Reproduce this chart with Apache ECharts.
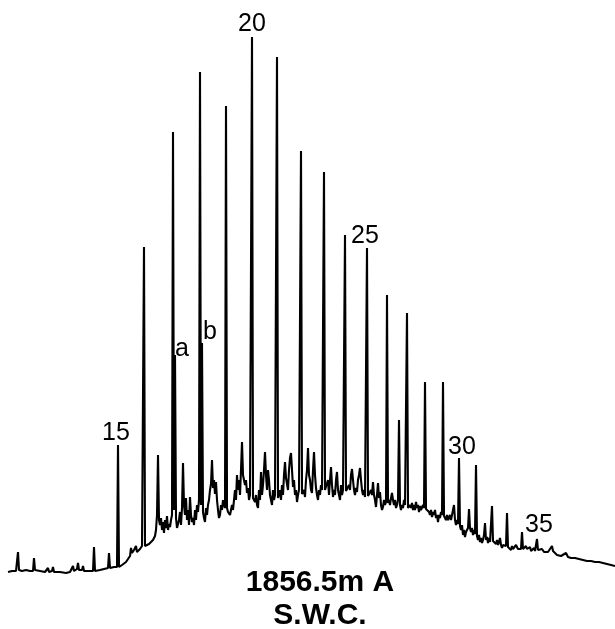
<!DOCTYPE html>
<html>
<head>
<meta charset="utf-8">
<script src="https://cdn.jsdelivr.net/npm/echarts@6/dist/echarts.min.js"></script>
<style>html,body{margin:0;padding:0;background:#fff;}#c{width:615px;height:629px;}</style>
</head>
<body>
<div id="c"></div>
<script>
// Gas chromatogram trace: [scan, detector response]
var frontTrace = [
[8,28],[12,29],[16,29],[17,29],[18,48],[19,30],[22,29],[26,30],[30,29],[33,29],[34,42],[35,30],[40,29],[45,28],[48,32],[49,28],[52,29],[53,33],[54,28],[60,28],[66,27],[70,28],[72,30],[73,34],[74,29],[77,31],[78,37],[79,30],[82,30],[83,34],[84,29],[88,29],[93,29],[94,53],[95,29],[100,30],[104,31],[108,32],[109,47],[110,32],[114,33],[117,33],[118,155],[119,33],[122,35],[126,38],[128,40],[130,44],[131,52],[132,47],[134,50],[136,54],[137,48],[140,51],[142,54],[143,54],[144,353],[145,54],[147,55],[149,56],[151,58],[153,60],[155,64],[156,70],[157,85],[158,145],[159,80],[160,75],[161,82],[162,70],[163,78],[164,67],[165,80],[166,72],[167,84],[168,70],[169,76],[170,73],[171,80],[172,85],[173,468],[174,90],[175,245],[176,82],[177,72],[178,70],[179,80],[180,88],[181,75],[182,92],[183,137],[184,95],[185,85],[186,102],[187,80],[188,90],[189,75],[190,103],[191,85],[192,78],[193,82],[194,75],[195,90],[196,80],[197,95],[198,88],[199,100],[200,528],[201,95],[202,257],[203,88],[204,82],[205,78],[206,92],[207,85],[208,95],[209,100],[210,110],[211,116],[212,140],[213,112],[214,120],[215,106],[216,118],[217,100],[218,90],[219,82],[220,85],[221,95],[222,90],[223,100],[224,95],[225,92],[226,494],[227,92],[228,88],[230,85],[232,95],[233,90],[235,110],[236,100],[237,125],[238,110],[239,120],[240,105],[241,130],[242,158],[243,125],[244,127],[245,115],[246,120],[247,107],[248,112],[249,100],[250,105],[251,103]
];
var humpTrace = [
[252,563],[253,102],[254,100],[255,98],[256,105],[257,95],[258,92],[259,110],[260,100],[261,128],[262,105],[263,115],[264,130],[265,148],[266,125],[267,110],[268,130],[269,120],[270,105],[271,100],[272,95],[273,110],[274,100],[275,105],[276,104],[277,543],[278,102],[279,103],[280,110],[281,100],[282,115],[283,105],[284,125],[285,138],[286,122],[287,120],[288,110],[289,130],[290,142],[291,147],[292,130],[293,113],[294,120],[295,105],[296,110],[297,98],[298,105],[299,110],[300,108],[301,449],[302,106],[303,105],[304,110],[305,103],[306,120],[307,130],[308,152],[309,125],[310,120],[311,110],[312,107],[313,130],[314,148],[315,125],[316,112],[317,105],[318,100],[319,110],[320,105],[321,115],[322,110],[323,108],[324,428],[325,110],[326,112],[327,110],[328,120],[329,105],[330,120],[331,133],[332,115],[333,103],[334,110],[335,105],[336,120],[337,128],[338,110],[339,105],[340,100],[341,115],[342,105],[343,110],[344,108],[345,365],[346,109],[347,110],[348,108],[349,115],[350,110],[351,125],[352,131],[353,120],[354,110],[355,105],[356,112],[357,108],[358,120],[359,125],[360,132],[361,120],[362,110],[363,105],[364,110],[365,103],[366,104],[367,352],[368,104],[369,105],[370,103],[371,110],[372,105],[373,118],[374,105],[375,100],[376,93],[377,105],[378,117],[379,102],[380,108],[381,95],[382,90],[383,93],[384,100],[385,95],[386,98],[387,305],[388,97],[389,100],[390,95],[391,102],[392,107],[393,100],[394,95],[395,100],[396,92],[397,95],[398,100],[399,180],[400,95]
];
var tailTrace = [
[401,90],[402,95],[403,92],[404,100],[405,95],[406,94],[407,287],[408,92],[409,90],[410,95],[411,92],[412,97],[413,90],[414,95],[415,90],[416,98],[417,92],[418,95],[419,88],[420,94],[421,90],[422,88],[423,95],[424,92],[425,218],[426,91],[427,90],[428,93],[429,88],[430,85],[431,90],[432,83],[433,88],[434,85],[435,90],[436,82],[437,85],[438,78],[439,85],[440,82],[441,88],[442,85],[443,218],[444,84],[445,82],[446,80],[447,85],[448,80],[449,82],[450,85],[451,80],[452,78],[453,82],[454,95],[455,80],[456,75],[457,80],[458,76],[459,142],[460,74],[461,70],[462,75],[463,65],[464,70],[465,63],[466,68],[467,70],[468,72],[469,91],[470,72],[471,68],[472,72],[473,65],[474,70],[475,66],[476,135],[477,64],[478,60],[479,65],[480,58],[481,62],[482,57],[483,60],[484,65],[485,77],[486,60],[487,63],[488,57],[489,62],[490,58],[491,60],[492,94],[493,59],[494,58],[495,60],[496,56],[497,60],[498,55],[499,58],[500,62],[501,55],[502,52],[503,55],[504,53],[505,55],[506,54],[507,87],[508,53],[509,52],[510,53],[511,50],[512,54],[513,51],[514,53],[515,50],[516,55],[517,55],[518,51],[519,53],[520,50],[521,51],[522,68],[523,51],[524,52],[525,50],[526,54],[527,51],[528,53],[529,50],[530,53],[531,49],[532,51],[533,50],[534,52],[535,49],[536,50],[537,61],[538,50],[539,50],[540,49],[542,51],[544,48],[546,50],[548,48],[550,51],[552,54],[553,49],[555,47],[557,45],[559,46],[561,44],[563,45],[566,47],[568,43],[571,42],[575,42],[579,41],[583,40],[587,39],[591,39],[595,38],[599,38],[603,37],[607,36],[611,35],[615,34]
];
// Peak annotations
var labelText = ['15', 'a', 'b', '20', '25', '30', '35'];
var labelScan = [116, 182, 210, 252, 365, 462, 539];
var labelResponse = [167, 251, 268, 576, 364, 153, 75];
var titleLines = ['1856.5m A', 'S.W.C.'];

var trace = frontTrace.concat(humpTrace, tailTrace);
var labelData = labelText.map(function (t, i) { return { value: [labelScan[i], labelResponse[i]], name: t }; });

var chart = echarts.init(document.getElementById('c'), null, { renderer: 'canvas' });
chart.setOption({
  animation: false,
  backgroundColor: '#ffffff',
  title: {
    text: titleLines.join('\n'),
    left: 315, top: 561, textAlign: 'center',
    textStyle: { fontFamily: 'Liberation Sans', fontWeight: 'bold', fontSize: 30, lineHeight: 33, color: '#000' }
  },
  grid: { left: 0, right: 0, top: 0, bottom: 0 },
  xAxis: { type: 'value', min: 0, max: 615, show: false },
  yAxis: { type: 'value', min: -29, max: 600, show: false },
  series: [
    {
      type: 'line', data: trace, showSymbol: false, symbol: 'none',
      lineStyle: { color: '#000', width: 2.1 }, clip: false
    },
    {
      type: 'scatter', data: labelData, symbolSize: 0,
      itemStyle: { opacity: 1 },
      label: {
        show: true, position: 'inside', formatter: function (p) { return p.name; },
        fontFamily: 'Liberation Sans', fontSize: 25, color: '#000', opacity: 1
      }
    }
  ]
});
</script>
</body>
</html>
